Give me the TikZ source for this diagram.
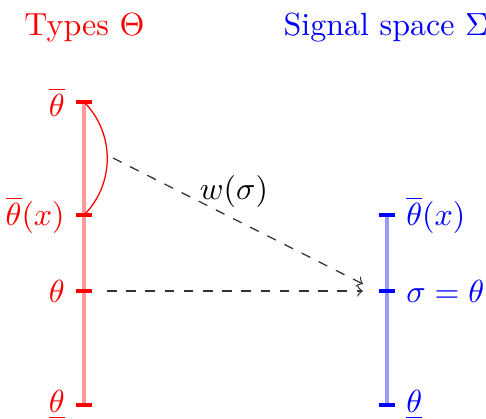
\documentclass[tikz,border=0pt]{standalone}
\begin{document}
\begin{tikzpicture}[x=0.3125pt,y=-0.3125pt,
  axisL/.style={red!40,line width=1pt},
  axisR/.style={blue!40,line width=1pt},
  tickL/.style={red,line width=1.2pt},
  tickR/.style={blue,line width=1.2pt},
  labL/.style={left,text=red,xshift=-2.5pt},
  labR/.style={right,text=blue,xshift=2.5pt},
  conn/.style={dashed,->,black!80}]
\useasboundingbox (0,0) rectangle (486,419);
% titles
\node[text=red,anchor=base] (tL) at (84.5,35) {Types $\Theta$};
\node[text=blue,anchor=base] (tR) at (386,35) {Signal space $\Sigma$};
% coordinates
\coordinate (Ltop) at (84,102);
\coordinate (Lx) at (84,215);
\coordinate (Lt) at (84,291);
\coordinate (Lb) at (84,405);
\coordinate (Rx) at (387,215);
\coordinate (Rs) at (387,291);
\coordinate (Rb) at (387,405);
% axes
\draw[axisL] (Ltop) -- (Lb);
\draw[axisR] (Rx) -- (Rb);
% ticks
\foreach \c in {Ltop,Lx,Lt,Lb}
  \draw[tickL] ([xshift=-2.5pt]\c) -- ([xshift=2.5pt]\c);
\foreach \c in {Rx,Rs,Rb}
  \draw[tickR] ([xshift=-2.5pt]\c) -- ([xshift=2.5pt]\c);
% labels
\node[labL] (l1) at (Ltop) {$\overline{\theta}$};
\node[labL] (l2) at (Lx) {$\overline{\theta}(x)$};
\node[labL] (l3) at (Lt) {$\theta$};
\node[labL] (l4) at (Lb) {$\underline{\theta}$};
\node[labR] (r1) at (Rx) {$\overline{\theta}(x)$};
\node[labR] (r2) at (Rs) {$\sigma=\theta$};
\node[labR] (r3) at (Rb) {$\underline{\theta}$};
% arc
\draw[red] (Ltop) .. controls (115,133) and (115,184) .. (Lx);
% connectors
\coordinate (a1s) at (113,158);
\coordinate (a1e) at (363,284);
\coordinate (a2s) at (107,291);
\coordinate (a2e) at (363,291);
\draw[conn] (a1s) -- (a1e);
\draw[conn] (a2s) -- (a2e);
\node (w) at (234,191) {$w(\sigma)$};
\end{tikzpicture}
\end{document}
